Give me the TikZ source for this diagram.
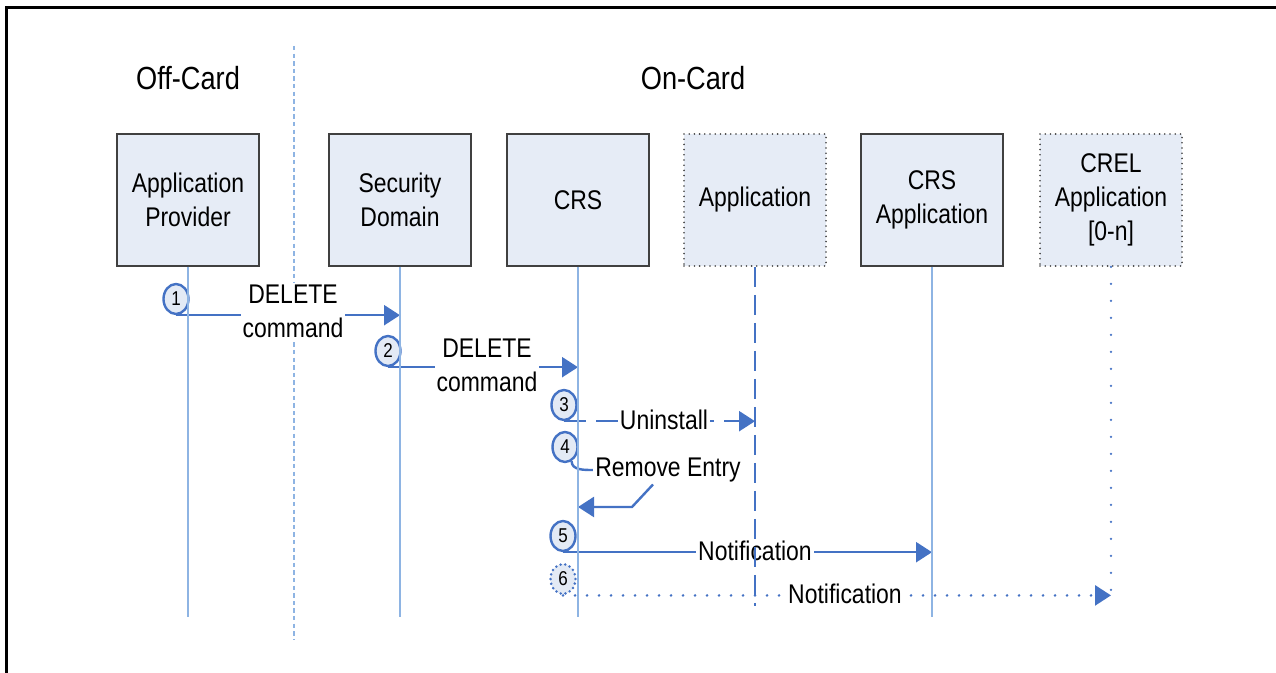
\documentclass[tikz,border=0pt]{standalone}
\usepackage{fontspec}
\setmainfont{Liberation Sans}[FakeStretch=0.85]
\usetikzlibrary{arrows.meta,shapes.geometric}
\definecolor{arr}{HTML}{4472C4}
\definecolor{life}{HTML}{8EB4E3}
\definecolor{boxfill}{HTML}{E6ECF6}
\definecolor{boxline}{HTML}{404040}
\definecolor{numfill}{HTML}{E3EAF5}
\begin{document}
\begin{tikzpicture}[x=0.5pt,y=-0.5pt,
  title/.style={font=\fontsize{16}{19}\selectfont, inner sep=0pt},
  actor/.style={draw=boxline, line width=0.75pt, fill=boxfill, minimum width=71pt, minimum height=66pt, align=center, inner sep=0pt, font=\fontsize{13.5}{17}\selectfont},
  actordot/.style={actor, draw=boxline, line width=0.9pt, dash pattern=on 0pt off 2.6pt, line cap=round},
  life/.style={draw=life, line width=0.75pt},
  sepline/.style={draw=life, line width=0.7pt, dash pattern=on 2.2pt off 1.6pt},
  msgline/.style={draw=arr, line width=1.2pt},
  msg/.style={msgline, -{Triangle[length=8pt,width=10pt]}},
  dashline/.style={dash pattern=on 11pt off 5pt},
  dotline/.style={line width=1.4pt, line cap=round, dash pattern=on 0pt off 6pt},
  lbl/.style={fill=white, inner sep=1pt, align=center, font=\fontsize{13.5}{17}\selectfont},
  num/.style={ellipse, draw=arr, line width=1.2pt, fill=numfill, minimum width=12.5pt, minimum height=15pt, inner sep=0pt, font=\fontsize{10}{11}\selectfont},
  numdot/.style={num, line width=1.4pt, line cap=round, dash pattern=on 0pt off 2.4pt}
]
\useasboundingbox (0,0) rectangle (1276,673);
% frame
\draw[line width=1.5pt] (6.5,673) -- (6.5,7.5) -- (1276,7.5);
% titles
\node[title] (off) at (188,78) {Off-Card};
\node[title] (on) at (693,78) {On-Card};
% separator
\coordinate (septop) at (294,46);
\coordinate (sepbot) at (294,639);
\draw[sepline] (septop) -- (sepbot);
% actors
\node[actor] (ap) at (188,200) {Application\\Provider};
\node[actor] (sd) at (400,200) {Security\\Domain};
\node[actor] (crs) at (578,200) {CRS};
\node[actordot] (app) at (755,200) {Application};
\node[actor] (crsapp) at (932,200) {CRS\\Application};
\node[actordot] (crel) at (1111,200) {CREL\\Application\\{[0-n]}};
% lifeline ends
\coordinate (e1) at (188,617);
\coordinate (e2) at (400,617);
\coordinate (e3) at (578,617);
\coordinate (e4) at (755,606);
\coordinate (e5) at (932,617);
\coordinate (e6) at (1111,606);
% step circles
\node[num] (n1) at (176,299) {1};
\node[num] (n2) at (388,351) {2};
\node[num] (n3) at (564,405) {3};
\node[num] (n4) at (565,447) {4};
\node[num] (n5) at (563,536) {5};
\node[numdot] (n6) at (563,579) {6};
% messages
\draw[msg] (n1.south) -- (n1.south -| sd.south);
\node[lbl] (t1) at (293,311) {DELETE\\command};
\draw[msg] (n2.south) -- (n2.south -| crs.south);
\node[lbl] (t2) at (487,365) {DELETE\\command};
\draw[msg, dashline] (n3.south) -- (n3.south -| app.south);
\node[lbl] (t3) at (664,420) {Uninstall};
\node[lbl] (t4) at (668,470) {Remove Entry};
\draw[msgline] (n4.-65) to[out=-90,in=180] (t4.west);
\coordinate (k4) at (632,507);
\draw[msg] ([xshift=-7.5pt]t4.south) -- (k4) -- (k4 -| crs.south);
\draw[msg] (n5.south) -- (n5.south -| crsapp.south);
\node[lbl] (t5) at (755,551) {Notification};
\draw[msg, dotline] (n6.south) -- (n6.south -| crel.south);
\node[lbl] (t6) at (845,594) {Notification};
% lifelines
\draw[life] (ap.south) -- (e1);
\draw[life] (sd.south) -- (e2);
\draw[life] (crs.south) -- (e3);
\draw[draw=arr, line width=1.2pt, dash pattern=on 10pt off 4pt] (app.south) -- (e4);
\draw[life] (crsapp.south) -- (e5);
\draw[draw=arr, line width=1.3pt, line cap=round, dash pattern=on 0pt off 8.5pt] (crel.south) -- (e6);
\end{tikzpicture}
\end{document}
